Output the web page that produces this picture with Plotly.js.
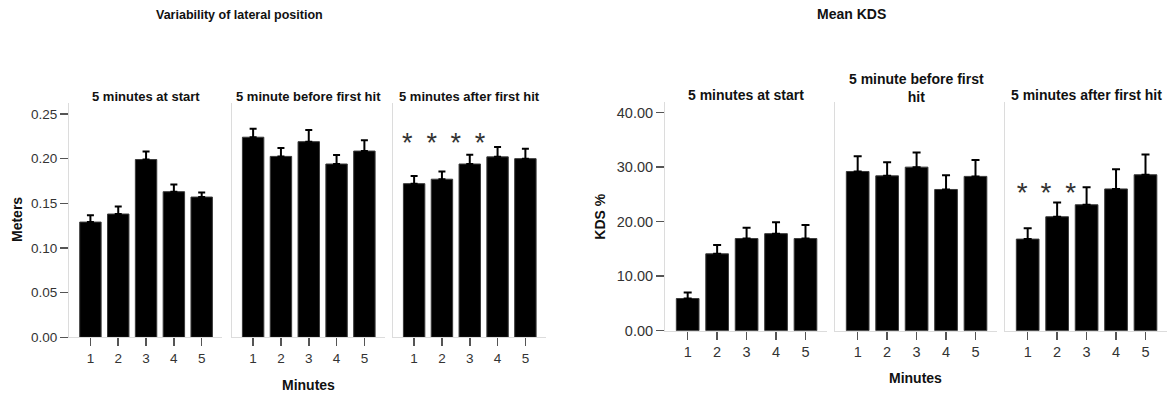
<!DOCTYPE html>
<html>
<head>
<meta charset="utf-8">
<script src="https://cdn.plot.ly/plotly-3.0.1.min.js"></script>
<style>html,body{margin:0;padding:0;background:#fff}#chart{width:1173px;height:398px}</style>
</head>
<body>
<div id="chart"></div>
<script>
// ---------- DATA ----------
const minutes = [1, 2, 3, 4, 5];
const tickLabels = ['1', '2', '3', '4', '5'];

const leftTitle = 'Variability of lateral position';
const rightTitle = 'Mean KDS';
const leftYTitle = 'Meters';
const rightYTitle = 'KDS %';
const xTitle = 'Minutes';
const leftPanelTitles = ['5 minutes at start', '5 minute before first hit', '5 minutes after first hit'];
const rightPanelTitles = ['5 minutes at start', '5 minute before first<br>hit', '5 minutes after first hit'];

// Variability of lateral position (m): means and standard errors
const latStart = [0.129, 0.138, 0.199, 0.163, 0.157];
const latStartErr = [0.0075, 0.0085, 0.009, 0.008, 0.005];
const latBefore = [0.224, 0.2025, 0.219, 0.194, 0.2085];
const latBeforeErr = [0.0095, 0.0095, 0.013, 0.010, 0.012];
const latAfter = [0.172, 0.177, 0.194, 0.202, 0.200];
const latAfterErr = [0.0085, 0.0085, 0.0105, 0.011, 0.011];

// Mean KDS (%): means and standard errors
const kdsStart = [5.9, 14.1, 16.9, 17.8, 16.9];
const kdsStartErr = [1.1, 1.6, 2.0, 2.1, 2.5];
const kdsBefore = [29.2, 28.4, 30.0, 25.9, 28.3];
const kdsBeforeErr = [2.8, 2.5, 2.7, 2.6, 3.0];
const kdsAfter = [16.8, 20.9, 23.1, 26.0, 28.6];
const kdsAfterErr = [2.0, 2.6, 3.2, 3.6, 3.7];

// Significance asterisks (panel "after first hit")
const latStarX = [0.755, 1.633, 2.496, 3.37];
const latStarY = [0.2148, 0.2148, 0.2148, 0.2148];
const kdsStarX = [0.817, 1.622, 2.461];
const kdsStarY = [24.95, 24.95, 24.95];

const leftYTicks = [0, 0.05, 0.10, 0.15, 0.20, 0.25];
const leftYTickText = ['0.00', '0.05', '0.10', '0.15', '0.20', '0.25'];
const rightYTicks = [0, 10, 20, 30, 40];
const rightYTickText = ['0.00', '10.00', '20.00', '30.00', '40.00'];

// ---------- LAYOUT HELPERS ----------
const W = 1173, H = 398;
const px = v => v / W;
const py = v => 1 - v / H;
const FONT = 'Liberation Sans, Arial, Helvetica, sans-serif';

const leftPanels = [[69, 222], [231.7, 384.7], [392.7, 545.7]];
const rightPanels = [[665, 827], [835, 997], [1005, 1167]];
const leftYDom = [py(337.3), py(103)];
const rightYDom = [py(330.7), py(101.7)];
const leftYRange = [0, 0.2623];
const rightYRange = [0, 42.0];
const xRange = [0.23, 5.73];

const leftSeries = [[latStart, latStartErr], [latBefore, latBeforeErr], [latAfter, latAfterErr]];
const rightSeries = [[kdsStart, kdsStartErr], [kdsBefore, kdsBeforeErr], [kdsAfter, kdsAfterErr]];

const traces = [];
const layout = {
  width: W, height: H,
  margin: {l: 0, r: 0, t: 0, b: 0},
  paper_bgcolor: '#ffffff', plot_bgcolor: '#ffffff',
  showlegend: false,
  font: {family: FONT, color: '#333'},
  annotations: [],
  bargap: 0.23
};

function addPanel(idx, dom, yDom, yRange, series, isFirst, yTicks, yTickText, tickSize, capW) {
  const n = idx + 1;
  const xa = n === 1 ? 'x' : 'x' + n;
  const ya = n === 1 ? 'y' : 'y' + n;
  const xKey = n === 1 ? 'xaxis' : 'xaxis' + n;
  const yKey = n === 1 ? 'yaxis' : 'yaxis' + n;
  traces.push({
    type: 'bar', x: minutes, y: series[0], xaxis: xa, yaxis: ya,
    width: 0.77,
    marker: {color: '#000000', line: {color: '#3a3a3a', width: 1}},
    error_y: {type: 'data', symmetric: false, array: series[1],
      arrayminus: series[1].map(() => 0), color: '#000000', thickness: 2, width: capW},
    hoverinfo: 'skip'
  });
  layout[xKey] = {
    domain: [px(dom[0]), px(dom[1])], anchor: ya, range: xRange,
    tickmode: 'array', tickvals: minutes, ticktext: tickLabels,
    ticks: 'outside', ticklen: 8, tickwidth: 1.5, tickcolor: '#555',
    showline: true, linecolor: '#dcdcdc', linewidth: 1,
    showgrid: false, zeroline: false, fixedrange: true,
    tickfont: {family: FONT, size: tickSize, color: '#333'}
  };
  layout[yKey] = {
    domain: yDom, anchor: xa, range: yRange,
    showline: true, linecolor: '#dcdcdc', linewidth: 1,
    showgrid: false, zeroline: false, fixedrange: true,
    tickmode: 'array', tickvals: yTicks, ticktext: yTickText,
    ticks: isFirst ? 'outside' : '', ticklen: 8, tickwidth: 1.5, tickcolor: '#555',
    showticklabels: isFirst,
    tickfont: {family: FONT, size: tickSize, color: '#333'}
  };
}

leftPanels.forEach((d, i) => addPanel(i, d, leftYDom, leftYRange, leftSeries[i], i === 0, leftYTicks, leftYTickText, 13.5, 3.5));
rightPanels.forEach((d, i) => addPanel(i + 3, d, rightYDom, rightYRange, rightSeries[i], i === 0, rightYTicks, rightYTickText, 14.5, 4));

// asterisks
traces.push({type: 'scatter', mode: 'text', x: latStarX, y: latStarY, xaxis: 'x3', yaxis: 'y3',
  text: latStarX.map(() => '*'), textposition: 'middle center', cliponaxis: false,
  textfont: {family: FONT, size: 27, color: '#333'}, hoverinfo: 'skip'});
traces.push({type: 'scatter', mode: 'text', x: kdsStarX, y: kdsStarY, xaxis: 'x6', yaxis: 'y6',
  text: kdsStarX.map(() => '*'), textposition: 'middle center', cliponaxis: false,
  textfont: {family: FONT, size: 28, color: '#333'}, hoverinfo: 'skip'});

// panel titles
leftPanelTitles.forEach((t, i) => {
  const d = leftPanels[i];
  layout.annotations.push({text: '<b>' + t + '</b>', xref: 'paper', yref: 'paper',
    x: px((d[0] + d[1]) / 2), y: py(96.7), xanchor: 'center', yanchor: 'middle', showarrow: false,
    font: {family: FONT, size: 13, color: '#111'}});
});
rightPanelTitles.forEach((t, i) => {
  const d = rightPanels[i];
  const two = t.indexOf('<br>') >= 0;
  layout.annotations.push({text: '<b>' + t + '</b>', xref: 'paper', yref: 'paper',
    x: px((d[0] + d[1]) / 2), y: py(two ? 88 : 95), xanchor: 'center', yanchor: 'middle', showarrow: false,
    font: {family: FONT, size: 14, color: '#111'}});
});

// chart titles and axis titles
const textAnn = (text, x, y, size, angle) => ({text: '<b>' + text + '</b>', xref: 'paper', yref: 'paper',
  x: px(x), y: py(y), xanchor: 'center', yanchor: 'middle', showarrow: false, textangle: angle || 0,
  font: {family: FONT, size: size, color: '#111'}});
layout.annotations.push(textAnn(leftTitle, 239.5, 15, 12.5));
layout.annotations.push(textAnn(rightTitle, 851, 14, 14));
layout.annotations.push(textAnn(leftYTitle, 17, 220, 14, -90));
layout.annotations.push(textAnn(rightYTitle, 600, 216.7, 14, -90));
layout.annotations.push(textAnn(xTitle, 308.3, 385, 14));
layout.annotations.push(textAnn(xTitle, 915, 378.3, 14));

Plotly.newPlot('chart', traces, layout, {staticPlot: true, displayModeBar: false});
</script>
</body>
</html>
